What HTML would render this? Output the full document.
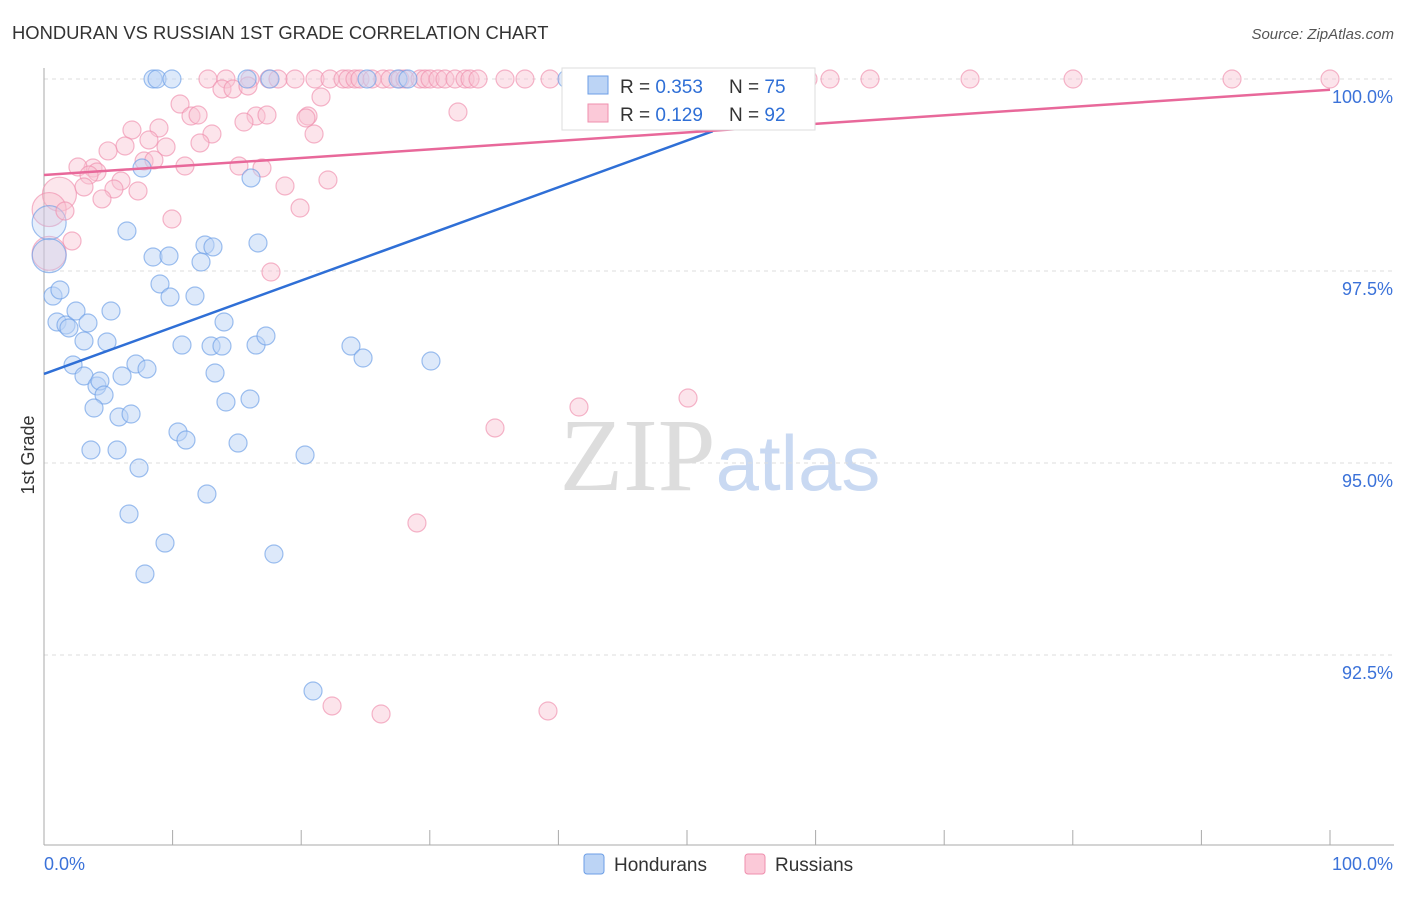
<!DOCTYPE html>
<html><head><meta charset="utf-8"><style>
body{margin:0;background:#fff;font-family:"Liberation Sans",sans-serif}
</style></head><body>
<svg id="chart" width="1406" height="892" xmlns="http://www.w3.org/2000/svg" font-family="Liberation Sans, sans-serif">
<text x="12" y="39" font-size="18.4" fill="#333">HONDURAN VS RUSSIAN 1ST GRADE CORRELATION CHART</text>
<text x="1394" y="39" font-size="15" fill="#555" text-anchor="end" font-style="italic">Source: ZipAtlas.com</text>
<text x="720" y="490" font-size="104" text-anchor="middle" fill="#ddd" font-family="Liberation Serif, serif">ZIP<tspan fill="#c9d9f2" font-family="Liberation Sans, sans-serif" font-size="78">atlas</tspan></text>
<g id="grid"></g><g id="axes"></g><g id="pts"></g><g id="lines"></g>
<text transform="translate(34,455) rotate(-90)" font-size="18" fill="#333" text-anchor="middle">1st Grade</text>
<g>
<rect x="562" y="68" width="253" height="62" fill="#fff" stroke="#ddd"/>
<rect x="588" y="76" width="20" height="18" fill="#bcd4f5" stroke="#6c9ee6"/>
<rect x="588" y="104" width="20" height="18" fill="#fbc9d8" stroke="#ef8fae"/>
<text x="620" y="93" font-size="19" fill="#333">R = <tspan fill="#2f6fd6">0.353</tspan></text>
<text x="729" y="93" font-size="19" fill="#333">N = <tspan fill="#2f6fd6">75</tspan></text>
<text x="620" y="121" font-size="19" fill="#333">R = <tspan fill="#2f6fd6"> 0.129</tspan></text>
<text x="729" y="121" font-size="19" fill="#333">N = <tspan fill="#2f6fd6">92</tspan></text>
</g>
<g>
<rect x="584" y="854" width="20" height="20" rx="3" fill="#bcd4f5" stroke="#6c9ee6"/>
<text x="614" y="871" font-size="19" fill="#333">Hondurans</text>
<rect x="745" y="854" width="20" height="20" rx="3" fill="#fbc9d8" stroke="#ef8fae"/>
<text x="775" y="871" font-size="19" fill="#333">Russians</text>
</g>
</svg>
<script>
const yTicks=[100,97.5,95,92.5];
const yTickLabels=["100.0%","97.5%","95.0%","92.5%"];
const xEndLabels=["0.0%","100.0%"];
const blueX=[], blueY=[], pinkX=[], pinkY=[];
const bluePx=[[153,79],[157,79],[172,79],[247,79],[270,79],[367,79],[398,79],[408,79],[567,79],[577,79],[688,79],[142,168],[251,178],[127,231],[205,245],[213,247],[258,243],[153,257],[169,256],[201,262],[160,284],[170,297],[195,296],[53,296],[60,290],[57,322],[66,325],[69,328],[76,311],[88,323],[111,311],[84,341],[107,342],[182,345],[211,346],[222,346],[224,322],[256,345],[266,336],[351,346],[363,358],[431,361],[73,365],[84,376],[97,386],[100,381],[104,395],[122,376],[136,364],[147,369],[215,373],[94,408],[119,417],[131,414],[226,402],[250,399],[178,432],[186,440],[238,443],[91,450],[117,450],[305,455],[139,468],[207,494],[129,514],[165,543],[274,554],[145,574],[313,691]];
const pinkPx=[[208,79],[226,79],[250,79],[269,79],[278,79],[295,79],[315,79],[330,79],[343,79],[348,79],[355,79],[360,79],[372,79],[383,79],[390,79],[400,79],[405,79],[420,79],[425,79],[430,79],[438,79],[445,79],[455,79],[465,79],[470,79],[478,79],[505,79],[525,79],[550,79],[580,79],[650,79],[700,79],[720,79],[765,79],[808,79],[830,79],[870,79],[970,79],[1073,79],[1232,79],[1330,79],[222,89],[233,89],[248,86],[321,97],[180,104],[191,116],[198,115],[256,116],[244,122],[267,115],[308,116],[306,118],[458,112],[314,134],[132,130],[159,128],[212,134],[125,146],[149,140],[166,147],[200,143],[108,151],[93,168],[78,167],[144,161],[154,160],[185,166],[239,166],[262,168],[97,172],[89,175],[121,181],[84,187],[114,189],[138,191],[285,186],[328,180],[102,199],[65,211],[172,219],[300,208],[72,241],[271,272],[579,407],[688,398],[495,428],[417,523],[332,706],[381,714],[548,711]];
const blueBigX=[0.4,0.4], blueBigY=[98.13,97.7];
const pinkBigX=[1.2,0.4,0.4], pinkBigY=[98.5,98.3,97.73];
const blueTrend=[[0,96.16],[52,99.32]];
const pinkTrend=[[0,98.75],[100,99.86]];
const X0=44,X1=1330,Y100=79,PPU=76.8;
const sx=v=>X0+(X1-X0)*v/100, sy=v=>Y100+(100-v)*PPU;
bluePx.forEach(p=>{blueX.push(+((p[0]-X0)/12.86).toFixed(2));blueY.push(+(100-(p[1]-Y100)/PPU).toFixed(3));});
pinkPx.forEach(p=>{pinkX.push(+((p[0]-X0)/12.86).toFixed(2));pinkY.push(+(100-(p[1]-Y100)/PPU).toFixed(3));});
const NS="http://www.w3.org/2000/svg";
function mk(t,a,parent){const e=document.createElementNS(NS,t);for(const k in a)e.setAttribute(k,a[k]);document.getElementById(parent).appendChild(e);return e;}
yTicks.forEach((t,i)=>{
 const g=mk('line',{x1:44,x2:1394,y1:sy(t),y2:sy(t),stroke:'#ddd','stroke-dasharray':'4,4'},'grid');
 
 
 const l=mk('text',{x:1393,y:sy(t)+24,'font-size':18,fill:'#3b72d9','text-anchor':'end'},'grid');
 l.textContent=yTickLabels[i];
 
 
});
let a=mk('line',{x1:44,x2:44,y1:68,y2:845,stroke:'#aaa'},'axes');


a=mk('line',{x1:44,x2:1394,y1:845,y2:845,stroke:'#aaa'},'axes');


for(let i=1;i<=10;i++){const t=mk('line',{x1:sx(i*10),x2:sx(i*10),y1:830,y2:845,stroke:'#aaa'},'axes');
 
 }
let xl=mk('text',{x:44,y:870,'font-size':18,fill:'#3b72d9'},'axes');xl.textContent=xEndLabels[0];


xl=mk('text',{x:1393,y:870,'font-size':18,fill:'#3b72d9','text-anchor':'end'},'axes');xl.textContent=xEndLabels[1];


function dots(X,Y,r,fill,stroke,name,op){X.forEach((x,i)=>{const c=mk('circle',{cx:sx(x),cy:sy(Y[i]),r:r,fill:fill,'fill-opacity':op,stroke:stroke,'stroke-opacity':0.65,'stroke-width':1.2},'pts');
 
 });}
dots(pinkBigX,pinkBigY,17,'#f7b6c9','#ef8fae','russian-point',0.35);
dots(blueBigX,blueBigY,17,'#b8cff3','#6c9ee6','honduran-point',0.35);
dots(pinkX,pinkY,9,'#f9c3d3','#ef8fae','russian-point',0.45);
dots(blueX,blueY,9,'#bcd4f5','#6c9ee6','honduran-point',0.5);
let tl=mk('line',{x1:sx(blueTrend[0][0]),y1:sy(blueTrend[0][1]),x2:sx(blueTrend[1][0]),y2:sy(blueTrend[1][1]),stroke:'#2f6fd6','stroke-width':2.5},'lines');


tl=mk('line',{x1:sx(pinkTrend[0][0]),y1:sy(pinkTrend[0][1]),x2:sx(pinkTrend[1][0]),y2:sy(pinkTrend[1][1]),stroke:'#e8689a','stroke-width':2.5},'lines');


</script>
</body></html>
